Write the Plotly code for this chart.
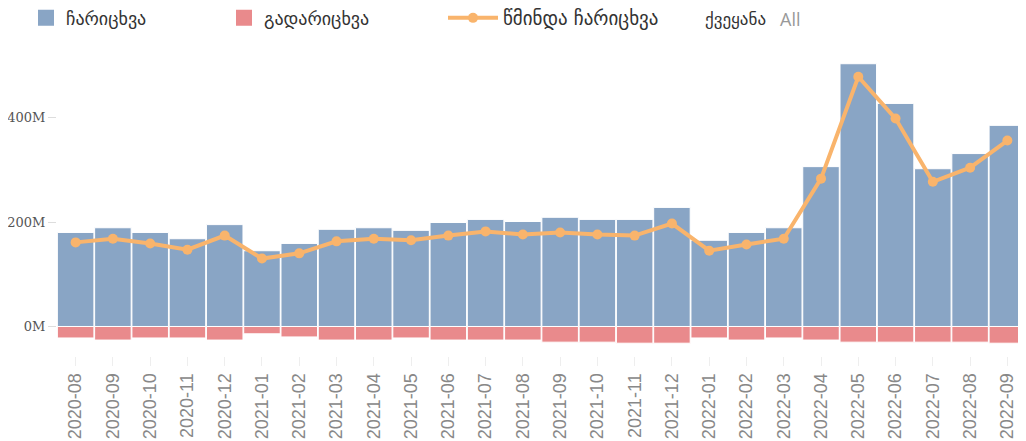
import plotly.graph_objects as go

months = ["2020-08","2020-09","2020-10","2020-11","2020-12","2021-01","2021-02","2021-03",
          "2021-04","2021-05","2021-06","2021-07","2021-08","2021-09","2021-10","2021-11",
          "2021-12","2022-01","2022-02","2022-03","2022-04","2022-05","2022-06","2022-07",
          "2022-08","2022-09"]
inflow = [180,189,180,168,195,145,159,186,189,184,199,205,201,209,205,205,228,165,180,189,
          306,503,427,302,331,385]
outflow = [22,26,22,22,26,14,20,26,26,22,26,26,26,30,30,32,32,22,26,22,26,30,30,30,30,32]
net = [161,168,159,147,174,130,140,163,168,165,174,182,176,180,176,174,197,145,157,168,
       283,478,398,277,304,356]
y_ticks = [0, 200, 400]
y_tick_labels = ["0M", "200M", "400M"]

name_in = "ჩარიცხვა"
name_out = "გადარიცხვა"
name_net = "წმინდა ჩარიცხვა"
filter_label = "ქვეყანა"
filter_value = "All"

C_IN, C_OUT, C_NET = "#89a5c5", "#e98a8c", "#f9b46c"

# the page adds an 8px body margin, so figure coords = page coords - 8
OFF = 8
W, H = 1026 - OFF, 441 - OFF
L, R, T, B = 57 - OFF, 0, 55 - OFF, H - (356 - OFF)
pw, ph = W - L - R, H - T - B

def px_x(x):
    return (x - OFF - L) / pw

def px_y(y):
    return (H - B - (y - OFF)) / ph

fig = go.Figure()
fig.add_trace(go.Bar(x=months, y=inflow, name=name_in, showlegend=False,
                     marker=dict(color=C_IN, line=dict(color="white", width=1))))
fig.add_trace(go.Bar(x=months, y=[-v for v in outflow], name=name_out, showlegend=False,
                     marker=dict(color=C_OUT, line=dict(color="white", width=1))))
# legend proxies with larger square symbols
fig.add_trace(go.Scatter(x=[None], y=[None], name=name_in, mode="markers", legend="legend",
                         marker=dict(color=C_IN, symbol="square", size=16)))
fig.add_trace(go.Scatter(x=[None], y=[None], name=name_out, mode="markers", legend="legend2",
                         marker=dict(color=C_OUT, symbol="square", size=16)))
fig.add_trace(go.Scatter(x=months, y=net, name=name_net, mode="lines+markers", legend="legend3",
                         line=dict(color=C_NET, width=4),
                         marker=dict(color=C_NET, size=10)))

leg_font = dict(family="DejaVu Sans", size=18, color="#333")
fig.update_layout(
    width=W, height=H,
    barmode="relative", bargap=0.02,
    plot_bgcolor="white", paper_bgcolor="white",
    margin=dict(l=L, r=R, t=T, b=B, autoexpand=False),
    showlegend=True,
    legend=dict(x=px_x(26), y=px_y(18), yanchor="middle", xanchor="left",
                font=leg_font, itemsizing="trace", bgcolor="rgba(0,0,0,0)"),
    legend2=dict(x=px_x(224), y=px_y(18), yanchor="middle", xanchor="left",
                 font=leg_font, itemsizing="trace", bgcolor="rgba(0,0,0,0)"),
    legend3=dict(x=px_x(443), y=px_y(18), yanchor="middle", xanchor="left",
                 font=dict(family="DejaVu Sans", size=19, color="#333"),
                 itemwidth=50, bgcolor="rgba(0,0,0,0)"),
    annotations=[
        dict(text=filter_label, x=px_x(703), y=px_y(19), xref="paper", yref="paper",
             showarrow=False, xanchor="left", yanchor="middle",
             font=dict(family="DejaVu Sans", size=17, color="#333")),
        dict(text=filter_value, x=px_x(778), y=px_y(19), xref="paper", yref="paper",
             showarrow=False, xanchor="left", yanchor="middle",
             font=dict(family="Open Sans", size=18, color="#999")),
    ],
)

fig.update_xaxes(type="category", range=[-0.5, 25.5], tickangle=-90, automargin=False,
                 tickfont=dict(family="Liberation Sans", size=18, color="#888"),
                 ticks="outside", ticklen=9, tickcolor="#eee", showgrid=False,
                 showline=False)
fig.update_yaxes(range=[-56.5, 519.7], tickvals=y_ticks, ticktext=y_tick_labels,
                 automargin=False,
                 tickfont=dict(family="DejaVu Serif", size=13, color="#555"),
                 ticks="outside", ticklen=8, tickcolor="#ddd", showgrid=False,
                 zeroline=False, showline=False)

fig.write_html("out.html")
